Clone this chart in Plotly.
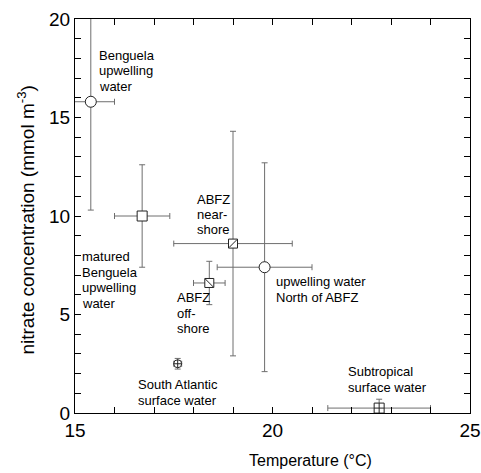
import plotly.graph_objects as go

# Water masses
names = ["Benguela upwelling water", "matured Benguela upwelling water", "ABFZ near-shore",
         "upwelling water North of ABFZ", "ABFZ off-shore", "South Atlantic surface water",
         "Subtropical surface water"]
temp = [15.4, 16.7, 19.0, 19.8, 18.4, 17.6, 22.7]
temp_err = [0.6, 0.7, 1.5, 1.2, 0.4, 0.1, 1.3]
nitrate = [15.8, 10.0, 8.6, 7.4, 6.6, 2.5, 0.25]
nitrate_err = [5.5, 2.6, 5.7, 5.3, 1.1, 0.27, 0.45]
symbols = ["circle", "square", "square", "circle", "square", "circle-cross", "square-cross"]
sizes = [11, 10, 9, 11, 9, 8, 10]
# diagonal overlays (single-slash squares)
diag = [None, None, "line-ne", None, "line-nw", None, None]

label_lines = [["Benguela", "upwelling", "water"],
               ["matured", "Benguela", "upwelling", "water"],
               ["ABFZ", "near-", "shore"],
               ["upwelling water", "North of ABFZ"],
               ["ABFZ", "off-", "shore"],
               ["South Atlantic", "surface water"],
               ["Subtropical", "surface water"]]
label_x = [15.56, 15.13, 18.04, 20.04, 17.54, 16.55, 21.87]
label_y = [18.15, 7.92, 10.86, 6.66, 5.85, 1.44, 2.10]
line_step = 0.785  # in nitrate units between text lines

FONT = "Liberation Sans, Arial, sans-serif"
fig = go.Figure()
for i in range(len(names)):
    fig.add_trace(go.Scatter(
        x=[temp[i]], y=[nitrate[i]], mode="markers", name=names[i],
        error_x=dict(type="data", array=[temp_err[i]], color="#6e6e6e", thickness=1, width=3),
        error_y=dict(type="data", array=[nitrate_err[i]], color="#6e6e6e", thickness=1, width=3),
        marker=dict(symbol=symbols[i], size=sizes[i], color="white",
                    line=dict(color="#222222", width=1)),
        cliponaxis=False, showlegend=False))
    if diag[i]:
        fig.add_trace(go.Scatter(
            x=[temp[i]], y=[nitrate[i]], mode="markers",
            marker=dict(symbol=diag[i], size=sizes[i] - 1, color="#222222",
                        line=dict(color="#222222", width=1)),
            showlegend=False, hoverinfo="skip"))

for lines, xx, yy in zip(label_lines, label_x, label_y):
    for k, t in enumerate(lines):
        fig.add_annotation(x=xx, y=yy - k * line_step, text=t, showarrow=False,
                           xanchor="left", yanchor="middle", align="left",
                           font=dict(family=FONT, size=13, color="black"))

fig.add_annotation(xref="paper", yref="paper", x=0.597, y=-0.12, text="Temperature (°C)",
                   showarrow=False, xanchor="center", yanchor="middle",
                   font=dict(family=FONT, size=16, color="black"))
fig.add_annotation(xref="paper", yref="paper", x=-0.125, y=0.49,
                   text="nitrate concentration (mmol m<sup>-3</sup>)", textangle=-90,
                   showarrow=False, xanchor="center", yanchor="middle",
                   font=dict(family=FONT, size=19, color="black"))

axis_common = dict(showgrid=False, zeroline=False, showline=True, linecolor="black", linewidth=1,
                   mirror="ticks", ticks="inside", ticklen=6, tickcolor="black", tickwidth=1,
                   automargin=False,
                   tickfont=dict(family=FONT, size=19, color="black"),
                   minor=dict(ticks="inside", ticklen=6, tickcolor="black", dtick=1))
fig.update_xaxes(range=[15, 25], tick0=15, dtick=5, **axis_common)
fig.update_yaxes(range=[0, 20], tick0=0, dtick=5, **axis_common)

fig.update_layout(width=481, height=473,
                  margin=dict(l=75, r=11, t=18.5, b=59.5, autoexpand=False),
                  paper_bgcolor="white", plot_bgcolor="white", font=dict(family=FONT))
fig.write_html("out.html")
